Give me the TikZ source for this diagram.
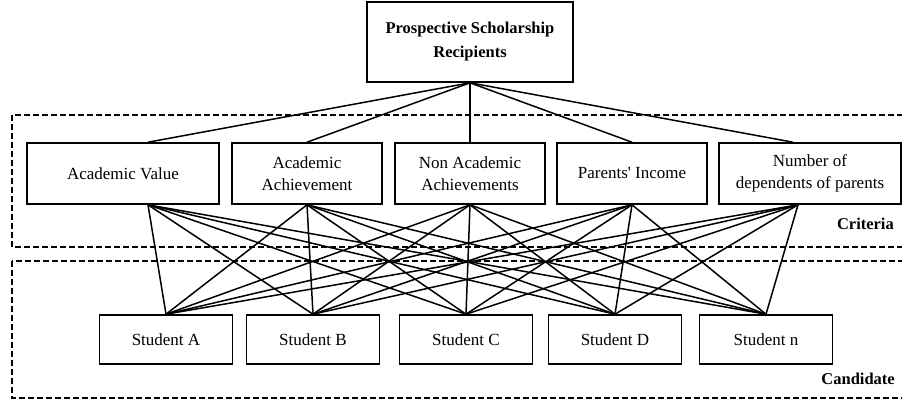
\documentclass[tikz,border=0pt]{standalone}
\usepackage{fontspec}
\setmainfont{Liberation Serif}[Ligatures=TeXOff]
\usetikzlibrary{calc}

\tikzset{
	boite/.style={draw,line width=1.6pt,align=center,inner sep=0pt,font=\fontsize{17}{22}\selectfont},
	critere/.style={boite,minimum width=150pt,minimum height=61pt},
	etudiant/.style={boite,minimum width=133pt,minimum height=49pt},
	cadre/.style={line width=1.3pt,dash pattern=on 6pt off 3pt},
	lien/.style={line width=1.5pt},
	titre/.style={anchor=east,inner sep=0pt,font=\bfseries\fontsize{16.5}{20}\selectfont}
}

\begin{document}
\begin{tikzpicture}[x=1pt,y=-1pt]
%					Cadre de l'image :
					\useasboundingbox (0,0) rectangle (902,400);
%					Cadres en pointillés :
					\draw[cadre] (12,115) rectangle (906,247);
					\draw[cadre] (12,261) rectangle (906,398);
					\node[titre] (crit) at (894,224) {Criteria};
					\node[titre] (cand) at (895,379) {Candidate};
%					Racine :
					\node[boite,minimum width=206pt,minimum height=80pt,font=\bfseries\fontsize{16.5}{24}\selectfont] (rac) at (470,42) {Prospective Scholarship\\Recipients};
%					Critères :
					\node[critere,minimum width=192pt] (c1) at (123,173.5) {Academic Value};
					\node[critere] (c2) at (307,173.5) {Academic\\Achievement};
					\node[critere] (c3) at (470,173.5) {Non Academic\\Achievements};
					\node[critere] (c4) at (632,173.5) {Parents' Income};
					\node[critere,minimum width=182pt] (c5) at (810,173.5) {Number of\\dependents of parents};
%					Étudiants :
					\foreach \n/\x/\t in {1/166/A,2/313/B,3/466/C,4/615/D,5/766/n}
						\node[etudiant] (e\n) at (\x,339.5) {Student \t};
%					Points d'attache :
					\coordinate (h1) at ([xshift=25pt]c1.north);
					\coordinate (b1) at ([xshift=25pt]c1.south);
					\foreach \i in {2,3,4}{
						\coordinate (h\i) at (c\i.north);
						\coordinate (b\i) at (c\i.south);
					}
					\coordinate (h5) at ([xshift=-17pt]c5.north);
					\coordinate (b5) at ([xshift=-12pt]c5.south);
%					Liens :
					\foreach \i in {1,...,5}
						\draw[lien] (rac.south) -- (h\i);
					\foreach \i in {1,...,5}
						\foreach \j in {1,...,5}
							\draw[lien] (b\i) -- (e\j.north);
				\end{tikzpicture}
\end{document}
